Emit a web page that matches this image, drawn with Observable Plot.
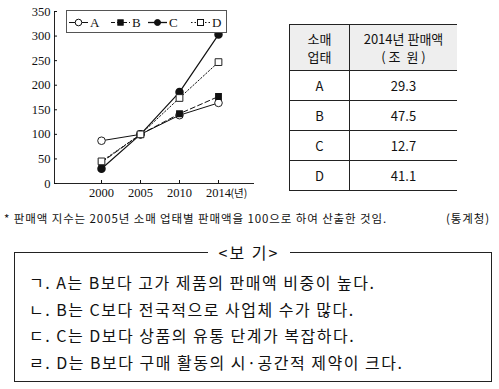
<!DOCTYPE html>
<html><head><meta charset="utf-8">
<script src="https://cdn.jsdelivr.net/npm/d3@7"></script>
<script src="https://cdn.jsdelivr.net/npm/@observablehq/plot@0.6"></script>
<style>
body{margin:0;background:#fff;}
#wrap{position:relative;width:499px;height:389px;overflow:hidden;font-family:"Noto Sans CJK KR",sans-serif;color:#111;}
#chart{position:absolute;left:0;top:0;}
#legend{position:absolute;left:66px;top:10px;width:161px;height:23px;border:1px solid #555;box-sizing:border-box;background:#fff;}
#legend svg{position:absolute;left:0;top:0;}
table{position:absolute;left:289px;top:24px;border-collapse:collapse;font-size:13px;}
td,th{border:1px solid #222;text-align:center;font-weight:normal;padding:0;}
th{background:#eeeeee;line-height:18px;height:45px;}
td{height:29px;}
#note{position:absolute;left:4px;top:210px;font-size:11.5px;letter-spacing:0.9px;white-space:nowrap;}
#src{position:absolute;right:9px;top:210px;font-size:11.5px;letter-spacing:0.9px;}
#box{position:absolute;left:14px;top:252px;width:478px;height:130px;border:1px solid #222;box-sizing:border-box;}
#btitle{position:absolute;left:208px;top:240px;width:82px;text-align:center;background:#fff;font-size:16px;letter-spacing:2px;font-family:"Noto Sans CJK KR";}
.ln{position:absolute;left:29px;font-size:16px;white-space:nowrap;letter-spacing:1.5px;font-family:"Noto Sans CJK KR";}
</style></head>
<body><div id="wrap"><div id="chart"></div>
<div id="legend"></div>
</div>
<script>
const years = [2000, 2005, 2010, 2014];
const seriesA = [87, 100, 139, 164];
const seriesB = [43, 100, 142, 177];
const seriesC = [30, 100, 186, 303];
const seriesD = [45, 100, 174, 247];
const yTicks = [0, 50, 100, 150, 200, 250, 300, 350];
const yearUnit = "(년)";
const tableTypes = ["A", "B", "C", "D"];
const sales2014 = ["29.3", "47.5", "12.7", "41.1"];
const headers = ["소매<br>업태", "2014년 판매액<br>( 조&nbsp;&nbsp;원 )"];
const note = "* 판매액 지수는 2005년 소매 업태별 판매액을 100으로 하여 산출한 것임.";
const source = "(통계청)";
const boxTitle = "<보 기>";
const statements = [
  "ㄱ. A는 B보다 고가 제품의 판매액 비중이 높다.",
  "ㄴ. B는 C보다 전국적으로 사업체 수가 많다.",
  "ㄷ. C는 D보다 상품의 유통 단계가 복잡하다.",
  "ㄹ. D는 B보다 구매 활동의 시·공간적 제약이 크다."
];

const mk = (arr) => years.map((y, i) => ({year: y, v: arr[i]}));
const A = mk(seriesA), B = mk(seriesB), C = mk(seriesC), D = mk(seriesD);

const plot = Plot.plot({
  width: 270, height: 200,
  marginLeft: 54, marginRight: 17, marginTop: 11, marginBottom: 17,
  style: {fontFamily: "'Liberation Serif', serif", fontSize: "12.5px", color: "#111", background: "transparent", overflow: "visible"},
  x: {type: "point", domain: years, range: [81, 238]},
  y: {domain: [0, 350]},
  marks: [
    Plot.frame({anchor: "left", stroke: "#222"}),
    Plot.frame({anchor: "bottom", stroke: "#222"}),
    Plot.axisY(yTicks, {tickSize: -3, tickPadding: 7, label: null}),
    Plot.axisX(years, {tickSize: -3, tickPadding: 8, label: null, tickFormat: d => String(d)}),
    Plot.text([2014], {x: d => d, y: 0, text: () => yearUnit, textAnchor: "start", dx: 12, dy: 10.5, lineAnchor: "middle", fontSize: 10.5, fontFamily: "'Noto Sans CJK KR'"}),
    Plot.line(A, {x: "year", y: "v", stroke: "#111", strokeWidth: 1}),
    Plot.line(B, {x: "year", y: "v", stroke: "#111", strokeWidth: 1, strokeDasharray: "5,3"}),
    Plot.line(C, {x: "year", y: "v", stroke: "#111", strokeWidth: 1.2}),
    Plot.line(D, {x: "year", y: "v", stroke: "#111", strokeWidth: 1, strokeDasharray: "1.5,2"}),
    Plot.dot(A, {x: "year", y: "v", r: 3.8, fill: "white", stroke: "#222", strokeWidth: 1}),
    Plot.dot(B, {x: "year", y: "v", r: 3, symbol: "square", fill: "#111", stroke: "#111"}),
    Plot.dot(C, {x: "year", y: "v", r: 3.5, fill: "#111", stroke: "#111"}),
    Plot.dot(D, {x: "year", y: "v", r: 3.8, symbol: "square", fill: "white", stroke: "#222", strokeWidth: 1})
  ]
});
document.getElementById("chart").appendChild(plot);

// legend
const names = ["A", "B", "C", "D"];
const lg = d3.select("#legend").append("svg").attr("width", 161).attr("height", 23);
const lx = [2, 44, 81, 124];
const dash = [null, "4,2", null, "1.5,2"];
names.forEach((n, i) => {
  const x0 = lx[i];
  lg.append("line").attr("x1", x0).attr("x2", x0 + 19).attr("y1", 11.5).attr("y2", 11.5)
    .attr("stroke", "#111").attr("stroke-dasharray", dash[i]).attr("stroke-width", i === 2 ? 1.3 : 1);
  const cx = x0 + 9.5;
  if (i === 0 || i === 2) lg.append("circle").attr("cx", cx).attr("cy", 11.5).attr("r", i === 0 ? 3.3 : 3)
    .attr("fill", i === 0 ? "white" : "#111").attr("stroke", "#111");
  else lg.append("rect").attr("x", cx - (i === 1 ? 2.7 : 3)).attr("y", 11.5 - (i === 1 ? 2.7 : 3))
    .attr("width", i === 1 ? 5.4 : 6).attr("height", i === 1 ? 5.4 : 6)
    .attr("fill", i === 1 ? "#111" : "white").attr("stroke", "#111");
  lg.append("text").attr("x", x0 + 21).attr("y", 16).text(n)
    .attr("font-family", "'Liberation Serif', serif").attr("font-size", 13).attr("fill", "#111");
});

// table
const wrap = d3.select("#wrap");
const tbl = wrap.append("table");
const hr = tbl.append("tr");
hr.append("th").style("width", "59px").style("border-left", "1px solid #222").html(headers[0]);
hr.append("th").style("width", "107px").style("border-right", "none").html(headers[1]);
tableTypes.forEach((t, i) => {
  const r = tbl.append("tr");
  r.append("td").text(t);
  r.append("td").style("border-right", "none").text(sales2014[i]);
});

wrap.append("div").attr("id", "note").text(note);
wrap.append("div").attr("id", "src").text(source);
wrap.append("div").attr("id", "box");
wrap.append("div").attr("id", "btitle").text(boxTitle);
const tops = [270, 297, 323, 350];
statements.forEach((s, i) => {
  wrap.append("div").attr("class", "ln").style("top", tops[i] + "px").text(s);
});
</script>
</body></html>
